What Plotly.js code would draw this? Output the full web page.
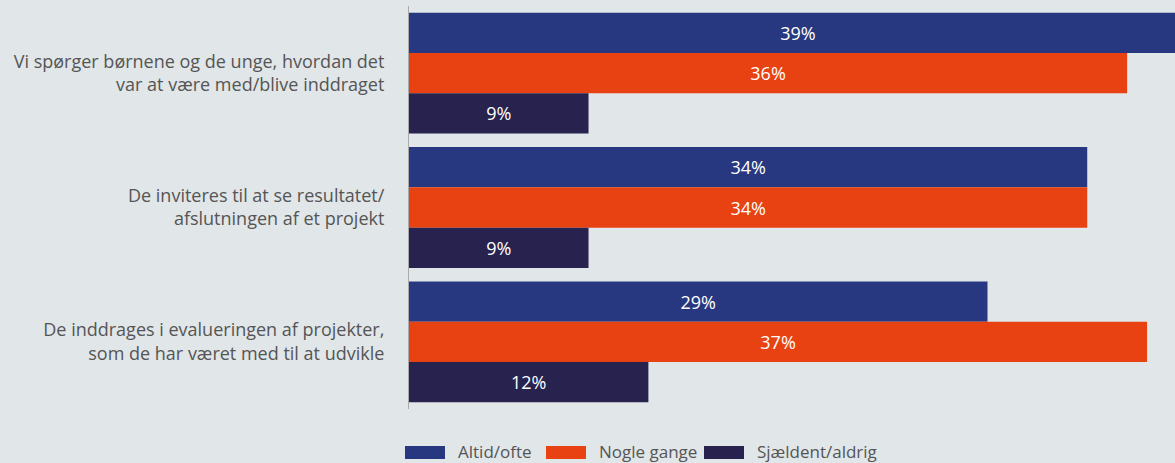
<!DOCTYPE html>
<html><head><meta charset="utf-8">
<script src="https://cdn.plot.ly/plotly-3.0.1.min.js"></script>
<style>html,body{margin:0;padding:0;background:#e1e6e9;}#chart{width:1175px;height:463px;}</style>
</head><body><div id="chart"></div>
<script>
const categories = [
  "Vi spørger børnene og de unge, hvordan det<br>var at være med/blive inddraget",
  "De inviteres til at se resultatet/<br>afslutningen af et projekt",
  "De inddrages i evalueringen af projekter,<br>som de har været med til at udvikle"
];
const seriesNames = ["Altid/ofte", "Nogle gange", "Sjældent/aldrig"];
const altidOfte = [39, 34, 29];
const nogleGange = [36, 34, 37];
const sjaeldentAldrig = [9, 9, 12];
const colors = ["#283880", "#e84212", "#28224f"];
const values = [altidOfte, nogleGange, sjaeldentAldrig];

const W = 1175, H = 463, ML = 409, MR = 0, MT = 6, MB = 54;
const px2x = p => (p - ML) / (W - ML - MR);
const px2y = p => (H - MB - p) / (H - MT - MB);

const traces = values.map((v, i) => ({
  type: "bar", orientation: "h", name: seriesNames[i],
  x: v, y: categories,
  marker: {color: colors[i]},
  texttemplate: "%{x}%", textposition: "inside", insidetextanchor: "middle",
  textfont: {color: "#ffffff", size: 18, family: "Open Sans"},
  hoverinfo: "skip", cliponaxis: true, showlegend: false
}));

// legend drawn as swatches + labels below the plot
const swatchLeft = [405, 546, 704];
const shapes = [], annotations = [];
seriesNames.forEach((n, i) => {
  shapes.push({type: "rect", xref: "paper", yref: "paper",
    x0: px2x(swatchLeft[i]), x1: px2x(swatchLeft[i] + 40),
    y0: px2y(459), y1: px2y(446),
    fillcolor: colors[i], line: {width: 0}, layer: "above"});
  annotations.push({xref: "paper", yref: "paper", x: px2x(swatchLeft[i] + 51), y: px2y(451.5),
    xanchor: "left", yanchor: "middle", text: n, showarrow: false,
    font: {size: 17, color: "#555555", family: "Open Sans"}});
});

const layout = {
  width: W, height: H,
  paper_bgcolor: "#e1e6e9", plot_bgcolor: "#e1e6e9",
  font: {family: "Open Sans", color: "#555555", size: 18},
  margin: {l: ML, r: MR, t: MT, b: MB},
  barmode: "group", bargap: 0.1, bargroupgap: 0,
  showlegend: false,
  shapes: shapes, annotations: annotations,
  xaxis: {range: [0, 38.4], visible: false, fixedrange: true},
  yaxis: {autorange: "reversed", showline: true, linecolor: "#aaaaaa", linewidth: 1,
          showgrid: false, zeroline: false, ticks: "", ticklabelstandoff: 20,
          tickfont: {size: 18, color: "#555555"}}
};
Plotly.newPlot("chart", traces, layout, {displayModeBar: false, staticPlot: true});
</script></body></html>
